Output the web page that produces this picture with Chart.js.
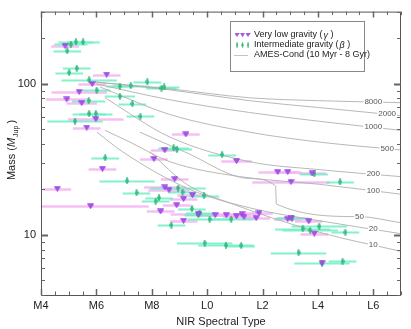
<!DOCTYPE html>
<html>
<head>
<meta charset="utf-8">
<script src="https://cdn.jsdelivr.net/npm/chart.js@4.4.0/dist/chart.umd.min.js"></script>
<style>
html, body { margin: 0; padding: 0; background: #fff; }
#wrap { width: 411px; height: 329px; }
</style>
</head>
<body>
<div id="wrap"><canvas id="c" width="411" height="329"></canvas></div>
<script>
// spectral type as a number: M0 = 0, L0 = 10
var xTickLabels = ['M4', 'M6', 'M8', 'L0', 'L2', 'L4', 'L6'];

// very low gravity (gamma) objects
var gammaSpt  = [4.87, 6.37, 5.85, 5.38, 4.93, 5.47, 5.98, 5.65, 9.23, 8.47, 8.08, 11.06, 6.22, 8.83, 4.59, 8.47, 8.62, 9.47, 9.15, 8.90, 5.79, 8.32, 9.68, 10.29, 10.69, 11.06, 11.26, 11.33, 11.87, 11.77, 9.15, 12.55, 12.91, 13.79, 13.03, 12.91, 13.03, 13.67, 13.87, 14.15];
var gammaMass = [178, 115, 99.6, 88.3, 78.7, 74.5, 58.4, 51.3, 46.2, 36.3, 31.8, 30.8, 27.4, 23.4, 20.2, 20.6, 19.8, 18.3, 17.3, 15.7, 15.5, 14.3, 13.7, 13.5, 13.5, 13.3, 13.7, 13.2, 13.9, 12.9, 12.4, 26.1, 26.1, 25.5, 22.4, 12.7, 12.9, 12.3, 10.2, 6.5];
var gammaErr  = [0.5, 0.5, 0.5, 1.0, 0.75, 0.55, 1.0, 0.5, 0.5, 0.5, 0.5, 0.55, 0.5, 0.5, 0.5, 0.75, 0.75, 0.55, 0.5, 0.5, 2.1, 0.5, 1.0, 0.5, 0.5, 0.5, 0.5, 0.5, 0.5, 0.5, 0.5, 0.7, 0.5, 0.5, 1.4, 0.5, 0.5, 0.5, 0.5, 0];

// intermediate gravity (beta) objects
var betaSpt  = [5.26, 5.52, 5.08, 4.95, 5.29, 5.02, 5.74, 7.84, 7.24, 6.85, 8.35, 8.45, 6.01, 6.85, 5.72, 7.30, 5.74, 5.98, 7.59, 5.23, 8.79, 8.91, 10.54, 6.32, 7.11, 8.95, 9.11, 7.45, 9.89, 8.26, 8.14, 9.45, 9.73, 9.68, 10.09, 10.87, 8.71, 9.91, 10.68, 11.23, 13.87, 14.80, 13.07, 14.05, 13.45, 13.72, 14.99, 13.30, 14.89, 14.15];
var betaMass = [189, 189, 182, 165, 126.5, 118.6, 106, 103, 97.3, 96.2, 93.3, 95.2, 90.6, 82.5, 77.4, 73.8, 63.5, 63.5, 60.7, 56.6, 37.6, 36.9, 34.0, 32.4, 22.8, 20.4, 19.2, 19.0, 18.2, 17.6, 16.7, 14.9, 13.9, 13.6, 12.7, 12.7, 11.6, 8.83, 8.53, 8.5, 25.3, 22.4, 12.9, 11.4, 11.0, 10.7, 10.4, 7.64, 6.68, 6.5];
var betaErr  = [0.63, 0.6, 0.6, 0.5, 0.5, 0.5, 1.0, 0.5, 0.66, 0.5, 0.55, 0.55, 0.5, 0.55, 0.6, 0.5, 0.6, 0.6, 0.5, 1.0, 0.55, 0.55, 0.5, 0.5, 1.0, 1.0, 0.5, 0.5, 0.55, 0.5, 0.5, 0.5, 0.5, 0.5, 0.8, 0.8, 0.5, 1.0, 1.0, 0.5, 0.5, 0.5, 0.6, 1.0, 1.0, 1.0, 0.5, 1.0, 0.5, 1.0];

// AMES-Cond isochrones, ages in Myr
var isoAges = ['8000', '2000', '1000', '500', '200', '100', '50', '20', '10'];
var isoSpt = [
  [5.95, 8.65, 11.53, 14.05, 16.97],
  [5.95, 8.65, 11.53, 14.05, 16.97],
  [6.0, 8.65, 11.53, 14.05, 16.97],
  [6.13, 8.65, 11.53, 14.05, 16.97],
  [6.31, 8.65, 11.53, 14.05, 16.97],
  [6.31, 7.21, 8.65, 11.17, 14.05, 16.97],
  [7.57, 9.19, 11.53, 12.47, 12.50, 15.50, 16.97],
  [6.02, 6.95, 9.37, 11.53, 14.05, 16.97],
  [7.93, 9.26, 10.92, 14.05, 16.97]
];
var isoMass = [
  [102.6, 92.4, 80.7, 77.2, 74.9],
  [102.6, 91.1, 77.2, 69.5, 61.6],
  [99.6, 78.3, 64.5, 56.4, 49.2],
  [95.2, 62.6, 47.8, 41.1, 36.5],
  [80.7, 44.4, 30.5, 27.0, 24.3],
  [49.2, 41.1, 30.5, 24.3, 21.6, 18.6],
  [47.8, 35.4, 23.6, 21.0, 16.0, 13.2, 12.05],
  [47.8, 35.4, 20.0, 15.1, 12.4, 10.2],
  [35.4, 21.6, 16.0, 10.4, 7.8]
];
var isoLabelSpt = [16, 16.5, 16, 16.5, 16, 16, 15.5, 16, 16];

var FONT = '"Liberation Sans", Arial, Helvetica, sans-serif';

function sptName(v) {
  var idx = (v - 4) / 2;
  return xTickLabels[idx] !== undefined && idx === Math.round(idx) ? xTickLabels[idx] : '';
}

// marker images
function makeTriangle() {
  var c = document.createElement('canvas');
  c.width = 7; c.height = 6;
  var g = c.getContext('2d');
  g.beginPath();
  g.moveTo(0.5, 0.7); g.lineTo(6.5, 0.7); g.lineTo(3.5, 5.6); g.closePath();
  g.fillStyle = '#a653f2'; g.fill();
  g.strokeStyle = '#8a3bd6'; g.lineWidth = 0.7; g.stroke();
  return c;
}
function makeDiamond() {
  var c = document.createElement('canvas');
  c.width = 4; c.height = 7;
  var g = c.getContext('2d');
  g.beginPath();
  g.moveTo(2, 0); g.lineTo(3.6, 3.5); g.lineTo(2, 7); g.lineTo(0.4, 3.5); g.closePath();
  g.fillStyle = '#35c184'; g.fill();
  g.strokeStyle = '#1fa66a'; g.lineWidth = 0.5; g.stroke();
  return c;
}
var triImg = makeTriangle();
var diaImg = makeDiamond();

function points(xs, ys) {
  var out = [];
  for (var i = 0; i < xs.length; i++) out.push({x: xs[i], y: ys[i]});
  return out;
}

var datasets = [];
for (var k = 0; k < isoAges.length; k++) {
  datasets.push({
    type: 'line',
    label: isoAges[k] + ' Myr',
    data: points(isoSpt[k], isoMass[k]),
    borderColor: '#b0b0b0',
    borderWidth: 0.9,
    pointRadius: 0,
    cubicInterpolationMode: 'monotone',
    fill: false,
    order: 3
  });
}
datasets.push({
  type: 'scatter',
  label: 'Intermediate gravity',
  data: points(betaSpt, betaMass),
  errs: betaErr,
  barColor: 'rgba(110, 240, 195, 0.85)',
  barWidth: 2,
  pointStyle: diaImg,
  order: 2
});
datasets.push({
  type: 'scatter',
  label: 'Very low gravity',
  data: points(gammaSpt, gammaMass),
  errs: gammaErr,
  barColor: 'rgba(242, 180, 242, 0.85)',
  barWidth: 2.6,
  pointStyle: triImg,
  order: 1
});

// horizontal error bars on spectral type
var errorBars = {
  id: 'errorBars',
  beforeDatasetsDraw: function(chart) {
    var ctx = chart.ctx, xs = chart.scales.x, ys = chart.scales.y, a = chart.chartArea;
    ctx.save();
    ctx.beginPath(); ctx.rect(a.left, a.top, a.right - a.left, a.bottom - a.top); ctx.clip();
    var order = [datasets.length - 1, datasets.length - 2];
    order.forEach(function(di) {
      var ds = chart.data.datasets[di];
      ctx.strokeStyle = ds.barColor;
      ctx.lineWidth = ds.barWidth;
      ds.data.forEach(function(p, i) {
        var e = ds.errs[i];
        if (!e) return;
        var y = Math.round(ys.getPixelForValue(p.y)) + 0.5;
        ctx.beginPath();
        ctx.moveTo(xs.getPixelForValue(p.x - e), y);
        ctx.lineTo(xs.getPixelForValue(p.x + e), y);
        ctx.stroke();
      });
    });
    ctx.restore();
  }
};

// frame, inward ticks, curve labels, y title and legend
var decor = {
  id: 'decor',
  afterDatasetsDraw: function(chart) {
    var ctx = chart.ctx, xs = chart.scales.x, ys = chart.scales.y, a = chart.chartArea;
    ctx.save();
    // curve labels
    ctx.font = '8px ' + FONT;
    ctx.textAlign = 'center';
    ctx.textBaseline = 'middle';
    for (var k = 0; k < isoAges.length; k++) {
      var sx = isoSpt[k], sm = isoMass[k], ls = isoLabelSpt[k], m = sm[sm.length - 1];
      for (var j = 0; j < sx.length - 1; j++) {
        if (ls >= sx[j] && ls <= sx[j + 1]) {
          var t = (ls - sx[j]) / (sx[j + 1] - sx[j]);
          m = Math.pow(10, Math.log10(sm[j]) + t * (Math.log10(sm[j + 1]) - Math.log10(sm[j])));
        }
      }
      var px = xs.getPixelForValue(ls), py = ys.getPixelForValue(m);
      var w = ctx.measureText(isoAges[k]).width;
      ctx.fillStyle = '#fff';
      ctx.fillRect(px - w / 2 - 1, py - 4, w + 2, 8);
      ctx.fillStyle = '#555';
      ctx.fillText(isoAges[k], px, py);
    }

    // frame
    ctx.strokeStyle = '#555';
    ctx.lineWidth = 1;
    ctx.strokeRect(a.left + 0.5, a.top + 0.5, a.right - a.left - 1, a.bottom - a.top);

    // x ticks (bottom and top, pointing inward)
    ctx.strokeStyle = '#666';
    for (var v = 4; v <= 17; v += 0.5) {
      var x = Math.round(xs.getPixelForValue(v)) + 0.5;
      var len = (v % 2 === 0) ? 6 : 3.5;
      ctx.lineWidth = (v % 2 === 0) ? 1.5 : 1;
      ctx.beginPath();
      ctx.moveTo(x, a.bottom); ctx.lineTo(x, a.bottom - len);
      ctx.moveTo(x, a.top); ctx.lineTo(x, a.top + len);
      ctx.stroke();
    }
    // y ticks (left and right)
    var yTicks = [4, 5, 6, 7, 8, 9, 10, 20, 30, 40, 50, 60, 70, 80, 90, 100, 200, 300];
    yTicks.forEach(function(t) {
      var y = Math.round(ys.getPixelForValue(t)) + 0.5;
      var major = (t === 10 || t === 100);
      var len = major ? 7 : 4;
      ctx.lineWidth = major ? 2 : 1;
      ctx.beginPath();
      ctx.moveTo(a.left, y); ctx.lineTo(a.left + len, y);
      ctx.moveTo(a.right, y); ctx.lineTo(a.right - len, y);
      ctx.stroke();
    });

    // y axis title: Mass (M_Jup)
    ctx.save();
    ctx.translate(15, 150);
    ctx.rotate(-Math.PI / 2);
    ctx.fillStyle = '#222';
    ctx.textAlign = 'left';
    ctx.textBaseline = 'alphabetic';
    var f1 = '11px ' + FONT, f2 = 'italic 11px ' + FONT, f3 = '7px ' + FONT;
    var p1 = 'Mass (', p2 = 'M', p3 = 'Jup', p4 = ')';
    ctx.font = f1; var w1 = ctx.measureText(p1).width, w4 = ctx.measureText(p4).width;
    ctx.font = f2; var w2 = ctx.measureText(p2).width;
    ctx.font = f3; var w3 = ctx.measureText(p3).width;
    var tot = w1 + w2 + w3 + w4 + 3;
    var x0 = -tot / 2;
    ctx.font = f1; ctx.fillText(p1, x0, 0);
    ctx.font = f2; ctx.fillText(p2, x0 + w1, 0);
    ctx.font = f3; ctx.fillText(p3, x0 + w1 + w2 + 1, 2.5);
    ctx.font = f1; ctx.fillText(p4, x0 + w1 + w2 + w3 + 3, 0);
    ctx.restore();

    // legend
    var lx = 230, ly = 21, lw = 134, lh = 50;
    ctx.fillStyle = '#fff';
    ctx.fillRect(lx, ly, lw, lh);
    ctx.strokeStyle = '#888';
    ctx.lineWidth = 1;
    ctx.strokeRect(lx + 0.5, ly + 0.5, lw, lh);
    var rows = [35, 45, 55];
    var mx = [237, 242.5, 248];
    mx.forEach(function(q) { ctx.drawImage(triImg, q - 2.5, rows[0] - 2.5, 5, 4.5); });
    mx.forEach(function(q) { ctx.drawImage(diaImg, q - 1.2, rows[1] - 3, 2.5, 6); });
    ctx.strokeStyle = '#c4c4c4';
    ctx.beginPath(); ctx.moveTo(234, rows[2] + 0.5); ctx.lineTo(248, rows[2] + 0.5); ctx.stroke();
    ctx.fillStyle = '#222';
    ctx.textAlign = 'left';
    ctx.textBaseline = 'middle';
    ctx.font = '9px ' + FONT;
    var seg1 = 'Very low gravity (';
    ctx.fillText(seg1, 254, rows[0]);
    var s1w = ctx.measureText(seg1).width;
    ctx.font = 'italic 9px ' + FONT;
    ctx.fillText('γ', 254 + s1w + 1, rows[0]);
    var gw = ctx.measureText('γ').width;
    ctx.font = '9px ' + FONT;
    ctx.fillText(' )', 254 + s1w + gw + 1, rows[0]);
    var seg2 = 'Intermediate gravity (';
    ctx.fillText(seg2, 254, rows[1]);
    var s2w = ctx.measureText(seg2).width;
    ctx.font = 'italic 9px ' + FONT;
    ctx.fillText('β', 254 + s2w + 1, rows[1]);
    var bw = ctx.measureText('β').width;
    ctx.font = '9px ' + FONT;
    ctx.fillText(' )', 254 + s2w + bw + 1, rows[1]);
    ctx.fillText('AMES-Cond (10 Myr - 8 Gyr)', 254, rows[2]);
    ctx.restore();
  }
};

var chart = new Chart(document.getElementById('c'), {
  type: 'scatter',
  data: { datasets: datasets },
  options: {
    responsive: false,
    animation: false,
    devicePixelRatio: 1,
    layout: { padding: { top: 7, right: 10, left: 0, bottom: 0 } },
    plugins: {
      legend: { display: false },
      tooltip: { enabled: false }
    },
    scales: {
      x: {
        type: 'linear',
        min: 4,
        max: 17,
        grid: { display: false, drawTicks: false },
        border: { display: false },
        ticks: {
          stepSize: 2,
          autoSkip: false,
          maxRotation: 0,
          padding: 4,
          color: '#222',
          font: { family: FONT, size: 11 },
          callback: function(v) { return sptName(v); }
        },
        title: {
          display: true,
          text: 'NIR Spectral Type',
          color: '#222',
          padding: { top: 0, bottom: 0 },
          font: { family: FONT, size: 11 }
        },
        afterFit: function(s) { s.height = 34; }
      },
      y: {
        type: 'logarithmic',
        min: 4,
        max: 300,
        grid: { display: false, drawTicks: false },
        border: { display: false },
        afterBuildTicks: function(s) { s.ticks = [{value: 10, major: true}, {value: 100, major: true}]; },
        ticks: {
          padding: 5,
          color: '#222',
          font: { family: FONT, size: 11 },
          callback: function(v) { return String(v); }
        },
        afterFit: function(s) { s.width = 41; }
      }
    }
  },
  plugins: [errorBars, decor]
});
</script>
</body>
</html>
